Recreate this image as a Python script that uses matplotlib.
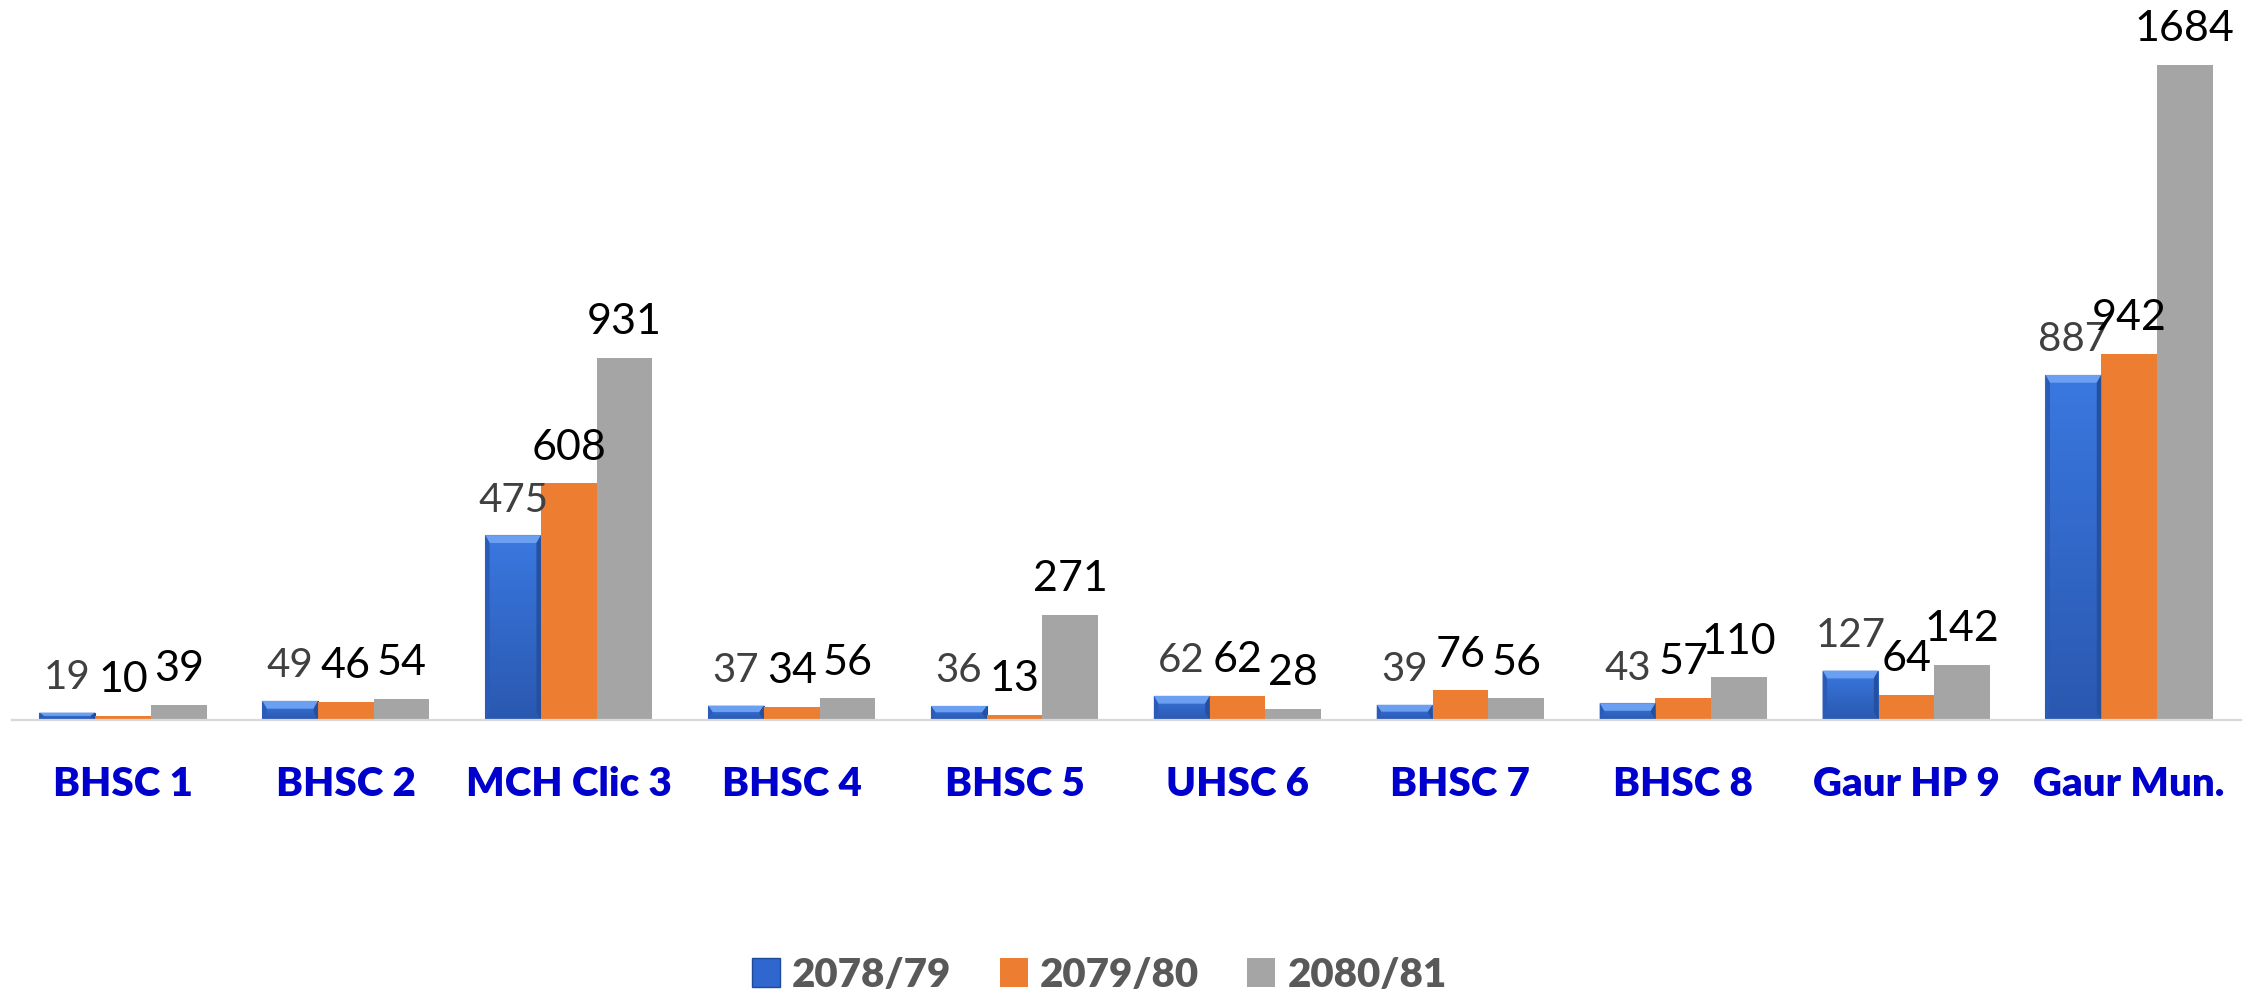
import numpy as np
import matplotlib
matplotlib.use('Agg')
import matplotlib.pyplot as plt
from matplotlib.patches import Polygon, Patch
from matplotlib.colors import LinearSegmentedColormap

plt.rcParams['font.family'] = ['Lato', 'DejaVu Sans']

# data
categories = ['BHSC 1', 'BHSC 2', 'MCH Clic 3', 'BHSC 4', 'BHSC 5',
              'UHSC 6', 'BHSC 7', 'BHSC 8', 'Gaur HP 9', 'Gaur Mun.']
years = ['2078/79', '2079/80', '2080/81']
y2078 = [19, 49, 475, 37, 36, 62, 39, 43, 127, 887]
y2079 = [10, 46, 608, 34, 13, 62, 76, 57, 64, 942]
y2080 = [39, 54, 931, 56, 271, 28, 56, 110, 142, 1684]

series = [y2078, y2079, y2080]
colors = ['#2f67cf', '#ED7D31', '#A5A5A5']
label_colors = ['#404040', '#000000', '#000000']

fig = plt.figure(figsize=(22.62, 9.99), dpi=100)
ax = fig.add_axes([0.0051, 0.2793, 0.9854, 0.7207])

x = np.arange(len(categories))
w = 0.25
blue_cmap = LinearSegmentedColormap.from_list('b', ['#2a58b0', '#3a78e0'])

bars_all = []
for i, vals in enumerate(series):
    bars = ax.bar(x + (i - 1) * w, vals, width=w, color=colors[i], zorder=2,
                  edgecolor='#1f4a9a' if i == 0 else 'none', linewidth=0.8)
    bars_all.append(bars)
    for b, v in zip(bars, vals):
        ax.annotate(str(v), (b.get_x() + b.get_width() / 2, v),
                    xytext=(0, 17), textcoords='offset points',
                    ha='center', va='baseline', fontsize=31 if i else 29,
                    color=label_colors[i], zorder=5)

# bevel look on the first series
dx = 0.02
for b in bars_all[0]:
    x0, h = b.get_x(), b.get_height()
    x1 = x0 + b.get_width()
    dy = min(20, h * 0.45)
    grad = np.linspace(0, 1, 100).reshape(-1, 1)
    im = ax.imshow(grad, extent=[x0, x1, 0, h], origin='lower', aspect='auto',
                   cmap=blue_cmap, zorder=2.1)
    im.set_clip_path(b)
    ax.add_patch(Polygon([(x0, h), (x1, h), (x1 - dx, h - dy), (x0 + dx, h - dy)],
                         facecolor='#6a9ff2', edgecolor='none', zorder=2.2))
    ax.add_patch(Polygon([(x0, 0), (x0, h), (x0 + dx, h - dy), (x0 + dx, min(dy, h / 2))],
                         facecolor='#2a5bb8', edgecolor='none', zorder=2.2))
    ax.add_patch(Polygon([(x1, 0), (x1, h), (x1 - dx, h - dy), (x1 - dx, min(dy, h / 2))],
                         facecolor='#24509f', edgecolor='none', zorder=2.2))

ax.set_xlim(-0.5, len(categories) - 0.5)
ax.set_ylim(0, 1851)
for s in ['top', 'right', 'left']:
    ax.spines[s].set_visible(False)
ax.spines['bottom'].set_color('#D9D9D9')
ax.spines['bottom'].set_linewidth(1.6)
ax.set_yticks([])
ax.set_xticks(x)
ax.set_xticklabels(categories, fontsize=29, fontweight='heavy', color='#0000CC')
ax.tick_params(axis='x', length=0, pad=33)

handles = [Patch(facecolor=colors[0], edgecolor='#1f4a9a'),
           Patch(facecolor=colors[1]), Patch(facecolor=colors[2])]
fig.legend(handles, years, loc='center', bbox_to_anchor=(0.486, 0.024), ncol=3,
           frameon=False, prop={'size': 29, 'weight': 'heavy'},
           handlelength=0.7, handleheight=0.7, handletextpad=0.3,
           columnspacing=1.2, labelcolor='#595959')

fig.savefig('out.png', dpi=100)
